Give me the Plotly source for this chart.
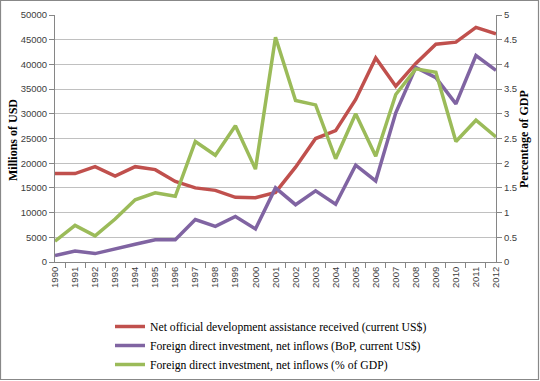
import plotly.graph_objects as go

years = [str(y) for y in range(1990, 2013)]
oda_musd = [17900, 17900, 19300, 17400, 19300, 18700, 16300, 15000, 14500, 13100, 13000,
            14100, 19200, 25000, 26600, 32900, 41300, 35600, 40200, 44100, 44500, 47500, 46200]
fdi_musd = [1300, 2200, 1700, 2700, 3600, 4500, 4500, 8600, 7200, 9200, 6700,
            15000, 11600, 14400, 11700, 19600, 16400, 30200, 39400, 37300, 32000, 41800, 38800]
fdi_pct_gdp = [0.42, 0.74, 0.53, 0.87, 1.26, 1.40, 1.33, 2.44, 2.16, 2.76, 1.88,
               4.55, 3.27, 3.18, 2.09, 3.00, 2.14, 3.39, 3.91, 3.84, 2.44, 2.87, 2.53]

names = ["Net official development assistance received (current US$)",
         "Foreign direct investment, net inflows (BoP, current US$)",
         "Foreign direct investment, net inflows (% of GDP)"]
colors = ["#C0504D", "#8064A2", "#9BBB59"]

fig = go.Figure()
fig.add_trace(go.Scatter(x=years, y=oda_musd, name=names[0], mode="lines",
                         line=dict(color=colors[0], width=3.5)))
fig.add_trace(go.Scatter(x=years, y=fdi_musd, name=names[1], mode="lines",
                         line=dict(color=colors[1], width=3.5)))
fig.add_trace(go.Scatter(x=years, y=fdi_pct_gdp, name=names[2], mode="lines", yaxis="y2",
                         line=dict(color=colors[2], width=3.5)))

W, H = 540, 381
def px(x):
    return x / W
def py(y):
    return 1 - y / H

tickfont = dict(family="Liberation Sans, Arial, sans-serif", size=9.5, color="#404040")
serif = "Liberation Serif, Times New Roman, serif"

fig.update_layout(
    width=W, height=H,
    margin=dict(l=0, r=0, t=0, b=0, autoexpand=False),
    paper_bgcolor="white", plot_bgcolor="white",
    showlegend=True,
    legend=dict(x=px(110), y=py(312), xanchor="left", yanchor="top",
                font=dict(family=serif, size=11.7, color="#000000"),
                bgcolor="rgba(0,0,0,0)", tracegroupgap=0, itemwidth=30),
    xaxis=dict(type="category", domain=[px(55), px(496)], tickangle=-90, tickfont=tickfont,
               showgrid=False, automargin=False,
               showline=True, linecolor="#868686", linewidth=1,
               ticks="outside", ticklen=5, tickcolor="#868686", tickson="boundaries",
               zeroline=False),
    yaxis=dict(domain=[py(262), py(15)], range=[0, 50000], dtick=5000, tickfont=tickfont,
               showgrid=True, automargin=False,
               gridcolor="#C0C0C0", gridwidth=1, showline=True, linecolor="#868686",
               ticks="outside", ticklen=5, tickcolor="#868686", zeroline=False,
               tickformat="d"),
    yaxis2=dict(range=[0, 5], dtick=0.5, overlaying="y", side="right", tickfont=tickfont,
                showgrid=False, automargin=False, showline=True, linecolor="#868686",
                ticks="outside", ticklen=5, tickcolor="#868686", zeroline=False),
    annotations=[
        dict(text="<b>Millions of USD</b>", xref="paper", yref="paper",
             x=px(13), y=py(140), xanchor="center", yanchor="middle",
             textangle=-90, showarrow=False,
             font=dict(family=serif, size=12, color="#000")),
        dict(text="<b>Percentage of GDP</b>", xref="paper", yref="paper",
             x=px(524), y=py(139), xanchor="center", yanchor="middle",
             textangle=-90, showarrow=False,
             font=dict(family=serif, size=12, color="#000")),
    ],
    shapes=[dict(type="rect", xref="paper", yref="paper",
                 x0=px(0.5), x1=px(538.5), y0=py(379.5), y1=py(0.5),
                 line=dict(color="#888888", width=1.2))],
)

fig.write_html("out.html", config={"displayModeBar": False},
               post_script="document.body.style.margin='0px';")
